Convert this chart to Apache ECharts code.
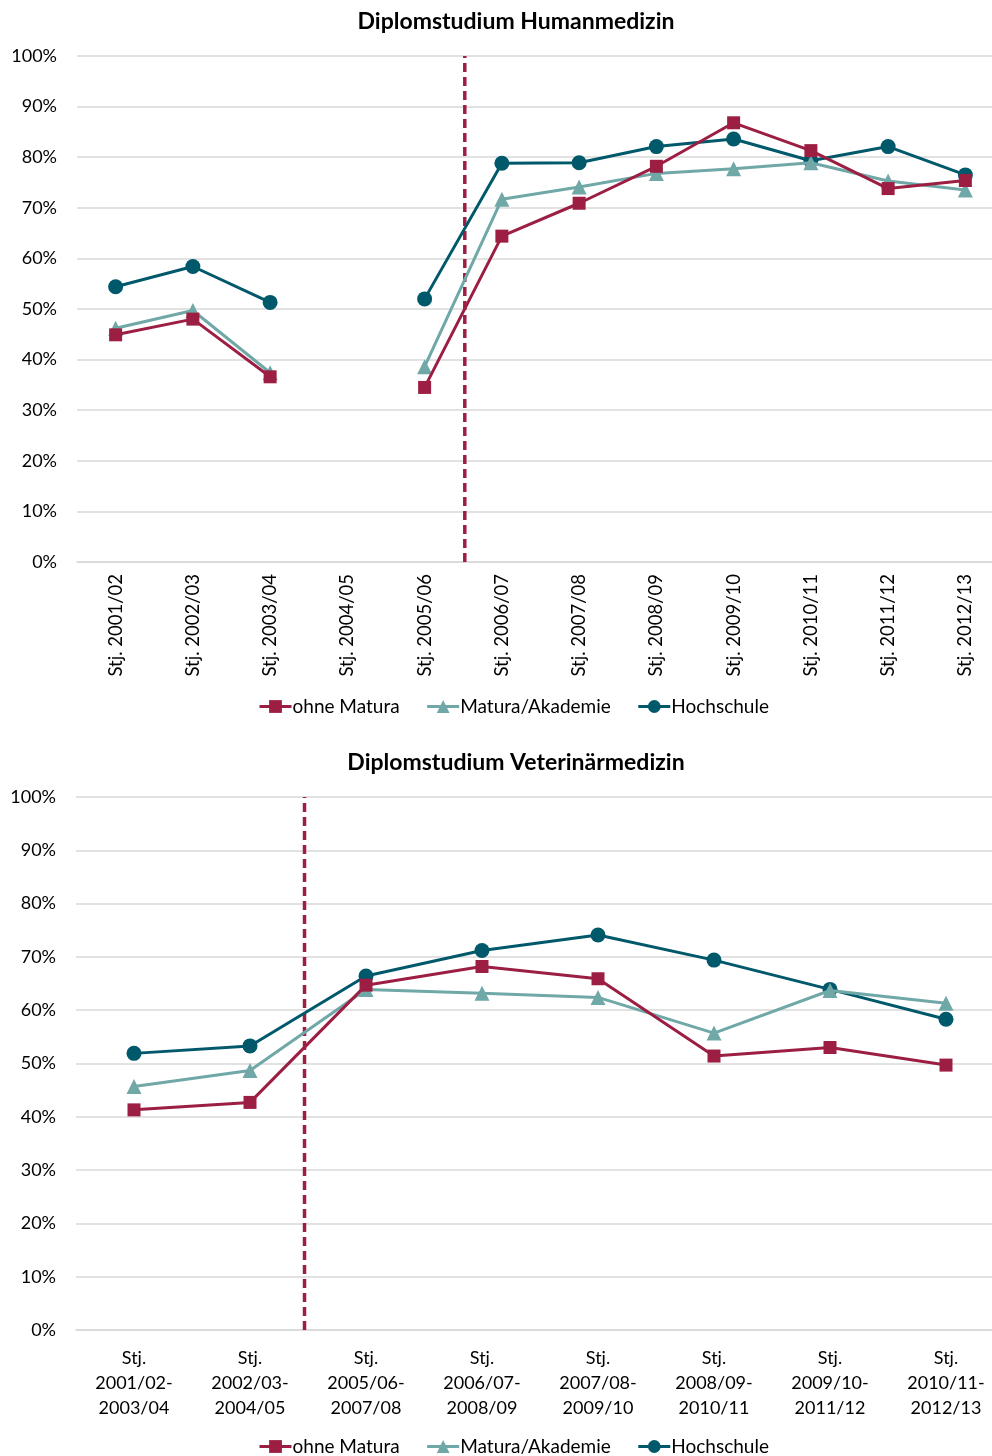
<!DOCTYPE html>
<html><head><meta charset="utf-8">
<script src="https://cdn.jsdelivr.net/npm/echarts@6/dist/echarts.min.js"></script>
<style>html,body{margin:0;padding:0;background:#fff}#c{width:992px;height:1456px}</style>
</head><body><div id="c"></div>
<script>
const titleTop = 'Diplomstudium Humanmedizin';
const titleBottom = 'Diplomstudium Veterinärmedizin';
const seriesNames = ['ohne Matura', 'Matura/Akademie', 'Hochschule'];
const catsTop = ['Stj. 2001/02','Stj. 2002/03','Stj. 2003/04','Stj. 2004/05','Stj. 2005/06','Stj. 2006/07','Stj. 2007/08','Stj. 2008/09','Stj. 2009/10','Stj. 2010/11','Stj. 2011/12','Stj. 2012/13'];
const ohneTop = [44.9, 48.0, 36.6, null, 34.5, 64.4, 70.9, 78.2, 86.8, 81.3, 73.8, 75.4];
const maturaTop = [46.2, 49.7, 37.4, null, 38.6, 71.7, 74.1, 76.8, 77.7, 78.9, 75.3, 73.5];
const hochTop = [54.4, 58.4, 51.3, null, 52.0, 78.8, 78.9, 82.1, 83.6, 79.3, 82.1, 76.5];
const catsBottom = ['Stj.\n2001/02-\n2003/04','Stj.\n2002/03-\n2004/05','Stj.\n2005/06-\n2007/08','Stj.\n2006/07-\n2008/09','Stj.\n2007/08-\n2009/10','Stj.\n2008/09-\n2010/11','Stj.\n2009/10-\n2011/12','Stj.\n2010/11-\n2012/13'];
const ohneBottom = [41.3, 42.7, 64.7, 68.2, 65.9, 51.4, 53.0, 49.7];
const maturaBottom = [45.7, 48.7, 63.9, 63.2, 62.4, 55.7, 63.7, 61.3];
const hochBottom = [51.9, 53.3, 66.4, 71.2, 74.1, 69.4, 63.9, 58.3];
const breakTop = 4.52;
const breakBottom = 1.47;
const yTicks = [0, 100, 10];

const colors = ['#9C1F43', '#70A7A7', '#00586B'];
const symbols = ['rect', 'triangle', 'circle'];
const symSizes = [13, 15, 15];
const font = 'Lato, "Open Sans", sans-serif';

function lineSeries(name, idx, data, axisIdx) {
  return {
    name: name, type: 'line', data: data,
    xAxisIndex: axisIdx, yAxisIndex: axisIdx,
    symbol: symbols[idx], symbolSize: symSizes[idx],
    lineStyle: {color: colors[idx], width: 3},
    itemStyle: {color: colors[idx]},
    connectNulls: false, z: 3 + (2 - idx)
  };
}
function breakSeries(x, hidden, yIdx) {
  return {
    type: 'line', xAxisIndex: hidden, yAxisIndex: yIdx,
    data: [[x, 0], [x, 100]], symbol: 'none', silent: true,
    lineStyle: {color: '#9C1F43', width: 3.5, type: [9, 5]}, z: 2
  };
}
const grids = [
  {left: 77, top: 56, width: 927, height: 506, outerBoundsMode: 'none', containLabel: false},
  {left: 76, top: 797, width: 928, height: 533, outerBoundsMode: 'none', containLabel: false}
];
function yAx(g) {
  return {
    type: 'value', gridIndex: g, min: yTicks[0], max: yTicks[1], interval: yTicks[2],
    axisLabel: {formatter: '{value}%', color: '#000', fontSize: 18, fontFamily: font, margin: 20},
    splitLine: {lineStyle: {color: '#d9d9d9', width: 1.5}},
    axisLine: {show: false}, axisTick: {show: false}
  };
}
function legend(top) {
  return {data: seriesNames, left: 253, top: top, itemWidth: 32, itemHeight: 16, itemGap: 26,
    lineStyle: {width: 3},
    textStyle: {fontSize: 19, color: '#000', fontFamily: font, padding: [0, 0, 0, -4]}};
}
const option = {
  animation: false,
  textStyle: {fontFamily: font},
  title: [
    {text: titleTop, left: 511, top: 5, textAlign: 'center', textStyle: {fontSize: 23, fontWeight: 'bold', color: '#000', fontFamily: font}},
    {text: titleBottom, left: 511, top: 746, textAlign: 'center', textStyle: {fontSize: 23, fontWeight: 'bold', color: '#000', fontFamily: font}}
  ],
  legend: [legend(692), legend(1432)],
  grid: grids,
  xAxis: [
    {type: 'category', gridIndex: 0, data: catsTop, boundaryGap: true,
     axisLine: {lineStyle: {color: '#d9d9d9', width: 1.5}}, axisTick: {show: false},
     axisLabel: {rotate: 90, color: '#000', fontSize: 18.5, fontFamily: font, margin: 12, interval: 0}},
    {type: 'category', gridIndex: 1, data: catsBottom, boundaryGap: true,
     axisLine: {lineStyle: {color: '#d9d9d9', width: 1.5}}, axisTick: {show: false},
     axisLabel: {color: '#000', fontSize: 18, lineHeight: 25, fontFamily: font, margin: 16, interval: 0}},
    {type: 'value', gridIndex: 0, min: -0.5, max: catsTop.length - 0.5, show: false},
    {type: 'value', gridIndex: 1, min: -0.5, max: catsBottom.length - 0.5, show: false}
  ],
  yAxis: [yAx(0), yAx(1)],
  series: [
    breakSeries(breakTop, 2, 0),
    breakSeries(breakBottom, 3, 1),
    lineSeries(seriesNames[0], 0, ohneTop, 0),
    lineSeries(seriesNames[1], 1, maturaTop, 0),
    lineSeries(seriesNames[2], 2, hochTop, 0),
    lineSeries(seriesNames[0], 0, ohneBottom, 1),
    lineSeries(seriesNames[1], 1, maturaBottom, 1),
    lineSeries(seriesNames[2], 2, hochBottom, 1)
  ]
};
const chart = echarts.init(document.getElementById('c'), null, {renderer: 'canvas'});
chart.setOption(option);
</script></body></html>
